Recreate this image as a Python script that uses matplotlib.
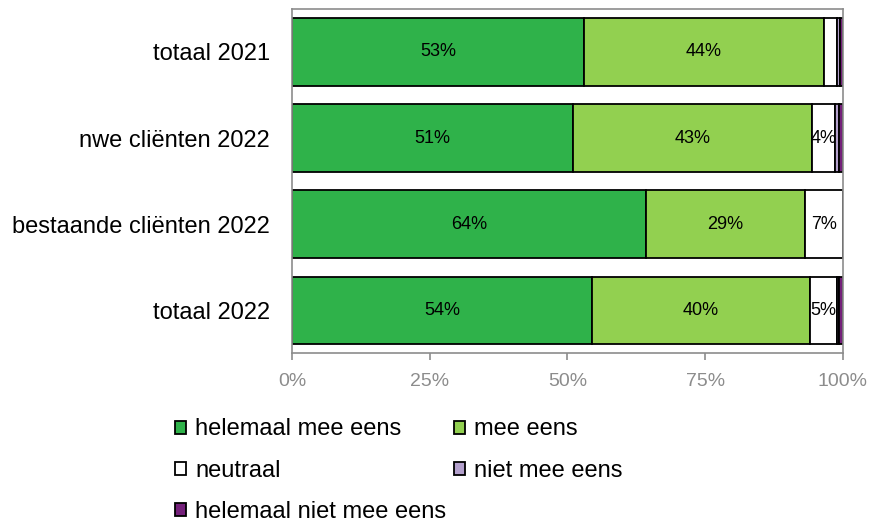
import matplotlib
matplotlib.use('Agg')
import matplotlib.pyplot as plt
from matplotlib.patches import Patch
import numpy as np

plt.rcParams['font.family'] = ['Liberation Sans', 'DejaVu Sans']

# groepen van onder naar boven
groepen = ['totaal 2022', 'bestaande cliënten 2022', 'nwe cliënten 2022', 'totaal 2021']
antwoorden = ['helemaal mee eens', 'mee eens', 'neutraal', 'niet mee eens', 'helemaal niet mee eens']
kleuren = ['#2fb24a', '#92d050', '#ffffff', '#b3a0cc', '#74207a']

helemaal_mee_eens = [54.4, 64.2, 51.0, 53.0]
mee_eens = [39.6, 28.9, 43.4, 43.6]
neutraal = [4.9, 6.9, 4.2, 2.3]
niet_mee_eens = [0.4, 0.0, 0.7, 0.5]
helemaal_niet_mee_eens = [0.7, 0.0, 0.7, 0.6]

reeksen = [helemaal_mee_eens, mee_eens, neutraal, niet_mee_eens, helemaal_niet_mee_eens]
xticks = [0, 25, 50, 75, 100]

grijs = '#8c8c8c'

fig = plt.figure(figsize=(8.69, 5.27), dpi=100)
ax = fig.add_axes([0.336, 0.330, 0.634, 0.653])

y = np.arange(len(groepen))
links = np.zeros(len(groepen))
for waarden, kleur in zip(reeksen, kleuren):
    waarden = np.array(waarden)
    ax.barh(y, waarden, left=links, height=0.78, color=kleur,
            edgecolor='black', linewidth=1.3)
    for yi, l, w in zip(y, links, waarden):
        if w >= 3.5:
            ax.text(l + w / 2, yi, f'{w:.0f}%', ha='center', va='center',
                    fontsize=13, color='black')
    links += waarden

ax.set_xlim(0, 100)
ax.set_ylim(-0.5, 3.5)
ax.set_yticks(y)
ax.set_yticklabels(groepen, fontsize=17)
ax.set_xticks(xticks)
ax.set_xticklabels([f'{t}%' for t in xticks], fontsize=14, color=grijs)
ax.tick_params(axis='y', length=0, pad=16)
ax.tick_params(axis='x', length=5, color=grijs, width=1.2, pad=9)
for s in ax.spines.values():
    s.set_color(grijs)
    s.set_linewidth(1.2)

handles = [Patch(facecolor=k, edgecolor='black', linewidth=1.3) for k in kleuren]
volgorde = [0, 2, 4, 1, 3]
fig.legend([handles[i] for i in volgorde], [antwoorden[i] for i in volgorde],
           ncol=2, frameon=False, fontsize=17, loc='upper left',
           bbox_to_anchor=(0.2014, 0.206), handlelength=0.47, handleheight=0.47,
           handletextpad=0.38, columnspacing=0.34, labelspacing=0.81,
           borderpad=0, borderaxespad=0)

fig.savefig('out.png', dpi=100)
